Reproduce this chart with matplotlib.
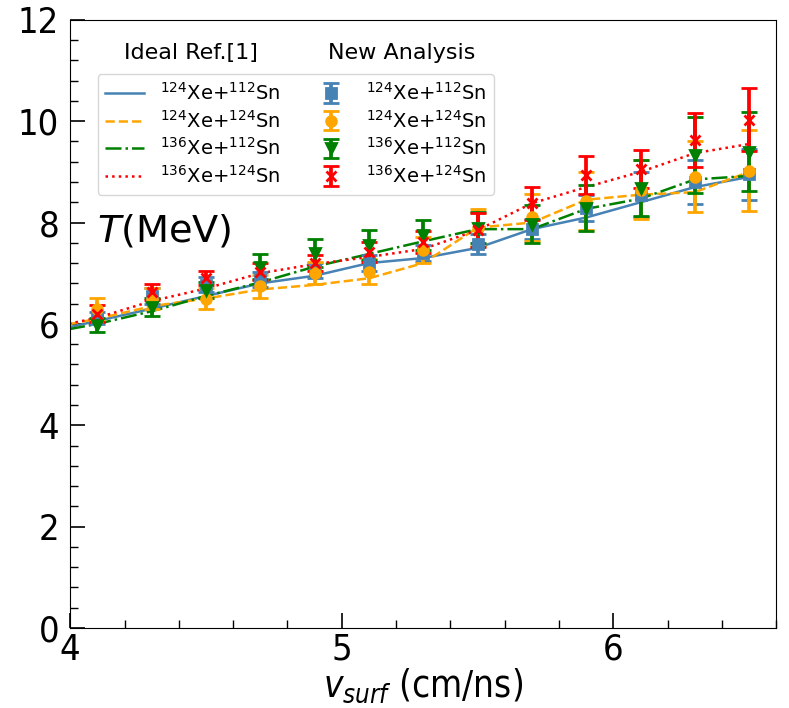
import matplotlib
matplotlib.use("Agg")
import matplotlib.pyplot as plt
from matplotlib.ticker import AutoMinorLocator
from matplotlib.font_manager import FontProperties

plt.rcParams["mathtext.fontset"] = "custom"
plt.rcParams["mathtext.it"] = "DejaVu Sans:italic:stretch=condensed"
plt.rcParams["mathtext.rm"] = "DejaVu Sans"

# new analysis points
x_new = [4.1, 4.3, 4.5, 4.7, 4.9, 5.1, 5.3, 5.5, 5.7, 5.9, 6.1, 6.3, 6.5]

t_124_112 = [6.12, 6.55, 6.77, 6.87, 7.05, 7.20, 7.40, 7.58, 7.87, 8.29, 8.55, 8.80, 8.95]
e_124_112 = [0.12, 0.15, 0.15, 0.15, 0.15, 0.15, 0.15, 0.20, 0.20, 0.25, 0.45, 0.44, 0.50]

t_124_124 = [6.30, 6.50, 6.50, 6.74, 7.00, 7.03, 7.46, 7.90, 8.10, 8.43, 8.65, 8.90, 9.02]
e_124_124 = [0.22, 0.20, 0.20, 0.22, 0.22, 0.25, 0.26, 0.36, 0.47, 0.57, 0.58, 0.70, 0.80]

t_136_112 = [5.98, 6.34, 6.67, 7.13, 7.40, 7.56, 7.76, 7.90, 7.97, 8.29, 8.68, 9.33, 9.40]
e_136_112 = [0.14, 0.18, 0.15, 0.25, 0.28, 0.30, 0.30, 0.30, 0.37, 0.45, 0.55, 0.75, 0.78]

t_136_124 = [6.20, 6.63, 6.90, 7.03, 7.20, 7.42, 7.62, 7.85, 8.38, 8.94, 9.06, 9.63, 10.03]
e_136_124 = [0.17, 0.15, 0.14, 0.17, 0.15, 0.20, 0.22, 0.33, 0.32, 0.38, 0.38, 0.53, 0.62]

# ideal reference curves
x_ref = [3.9, 4.1, 4.3, 4.5, 4.7, 4.9, 5.1, 5.3, 5.5, 5.7, 5.9, 6.1, 6.3, 6.5]
ref_124_112 = [5.82, 6.06, 6.30, 6.55, 6.80, 6.95, 7.20, 7.30, 7.50, 7.87, 8.10, 8.40, 8.70, 8.90]
ref_124_124 = [5.90, 6.10, 6.35, 6.50, 6.68, 6.77, 6.90, 7.20, 7.90, 8.00, 8.45, 8.55, 8.60, 9.00]
ref_136_112 = [5.80, 6.00, 6.25, 6.55, 6.82, 7.13, 7.38, 7.63, 7.87, 7.87, 8.27, 8.47, 8.85, 8.92]
ref_136_124 = [5.90, 6.12, 6.45, 6.70, 7.00, 7.18, 7.32, 7.48, 7.85, 8.38, 8.70, 9.00, 9.37, 9.55]

labels = [r"$^{124}$Xe+$^{112}$Sn", r"$^{124}$Xe+$^{124}$Sn",
          r"$^{136}$Xe+$^{112}$Sn", r"$^{136}$Xe+$^{124}$Sn"]
colors = ["steelblue", "orange", "green", "red"]

fig = plt.figure(figsize=(7.89, 7.08), dpi=100)
ax = fig.add_axes([0.089, 0.113, 0.895, 0.859])

refs = [ref_124_112, ref_124_124, ref_136_112, ref_136_124]
styles = ["-", "--", "-.", ":"]
handles = []
for ys, ls, c, lab in zip(refs, styles, colors, labels):
    h, = ax.plot(x_ref, ys, ls, color=c, lw=1.8, label=lab)
    handles.append(h)

news = [(t_124_112, e_124_112, "s"), (t_124_124, e_124_124, "o"),
        (t_136_112, e_136_112, "v"), (t_136_124, e_136_124, "x")]
for (ys, es, m), c, lab in zip(news, colors, labels):
    h = ax.errorbar(x_new, ys, yerr=es, fmt=m, color=c, ms=7, mew=2,
                    elinewidth=2.7, capsize=6, capthick=1.8, label=lab)
    handles.append(h)

ax.set_xlim(4, 6.6)
ax.set_ylim(0, 12)
ax.set_xticks([4, 5, 6])
ax.set_yticks([0, 2, 4, 6, 8, 10, 12])
ax.xaxis.set_minor_locator(AutoMinorLocator(5))
ax.yaxis.set_minor_locator(AutoMinorLocator(5))
ax.tick_params(which="major", direction="in", length=11, width=1.2, labelsize=26)
ax.tick_params(which="minor", direction="in", length=6, width=1.0)
ax.tick_params(axis="y", which="major", pad=8)
for lab in ax.get_xticklabels() + ax.get_yticklabels():
    lab.set_fontstretch("condensed")

ax.set_xlabel(r"$v_{surf}$ (cm/ns)", fontsize=26.5, fontstretch="condensed", labelpad=0)
ax.text(0.038, 0.652, r"$T$(MeV)", transform=ax.transAxes, fontsize=27.5,
        va="center", ha="left", math_fontfamily="dejavusans")

leg = ax.legend(handles=handles, ncol=2, prop=FontProperties(size=14),
                loc="upper left", bbox_to_anchor=(0.025, 0.927),
                columnspacing=1.6, handletextpad=0.8, labelspacing=0.3,
                borderpad=0.4)

ax.text(0.171, 0.945, "Ideal Ref.[1]", transform=ax.transAxes, fontsize=16,
        ha="center", va="center")
ax.text(0.469, 0.945, "New Analysis", transform=ax.transAxes, fontsize=16,
        ha="center", va="center")

fig.savefig("out.png", dpi=100)
